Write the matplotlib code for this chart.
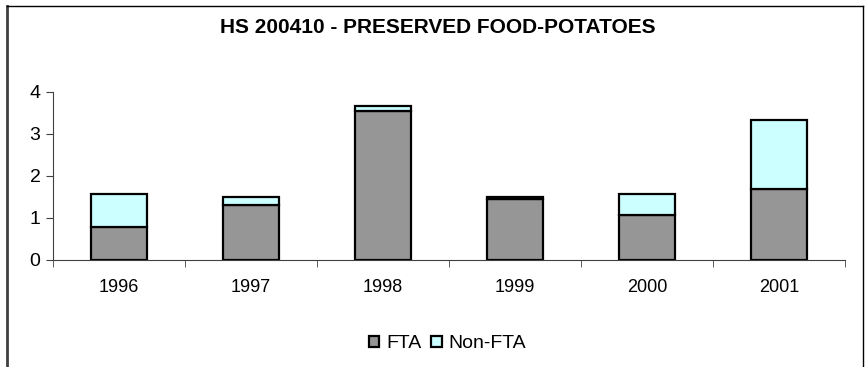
import matplotlib.pyplot as plt
from matplotlib.lines import Line2D

plt.rcParams['font.family'] = ['Liberation Sans', 'DejaVu Sans']

years = ['1996', '1997', '1998', '1999', '2000', '2001']
fta = [0.79, 1.32, 3.55, 1.44, 1.06, 1.70]
non_fta = [0.77, 0.19, 0.12, 0.07, 0.50, 1.64]

fig = plt.figure(figsize=(8.67, 3.67), dpi=100)
ax = fig.add_axes([0.0611, 0.2916, 0.9135, 0.4578])

# chart border (bottom edge sits off the picture)
W, H = 867, 367
top = 1 - 5.5 / H
fig.add_artist(Line2D([7 / W, 7 / W], [0, top], color='#404040', lw=2.0))
fig.add_artist(Line2D([7 / W, 862.5 / W], [top, top], color='black', lw=1.0))
fig.add_artist(Line2D([862.5 / W, 862.5 / W], [0, top], color='black', lw=1.0))

x = list(range(len(years)))
ax.bar(x, fta, width=0.42, color='#969696', edgecolor='black', linewidth=1.6, label='FTA')
ax.bar(x, non_fta, width=0.42, bottom=fta, color='#CCFFFF', edgecolor='black',
       linewidth=1.6, label='Non-FTA')

ax.set_xlim(-0.5, len(years) - 0.5)
ax.set_ylim(0, 4)
ax.set_yticks([0, 1, 2, 3, 4])
ax.set_xticks(x)
ax.set_xticklabels(years)
ax.set_xticks([i - 0.5 for i in range(len(years) + 1)], minor=True)
ax.tick_params(axis='x', which='major', length=0, pad=14, labelsize=13)
ax.tick_params(axis='x', which='minor', length=5, direction='out', color='#404040')
ax.tick_params(axis='y', length=5, direction='out', labelsize=14, pad=4, color='#404040')

for s in ['top', 'right']:
    ax.spines[s].set_visible(False)
ax.spines['left'].set_color('#404040')
ax.spines['bottom'].set_color('#404040')

fig.text(0.505, 0.924, 'HS 200410 - PRESERVED FOOD-POTATOES', ha='center', va='center',
         fontsize=15, fontweight='bold')

fig.legend(loc='center', bbox_to_anchor=(0.516, 0.063), ncol=2, frameon=False,
           fontsize=14, handlelength=0.55, handleheight=0.55, handletextpad=0.35,
           columnspacing=0.5)

fig.savefig('out.png', dpi=100)
